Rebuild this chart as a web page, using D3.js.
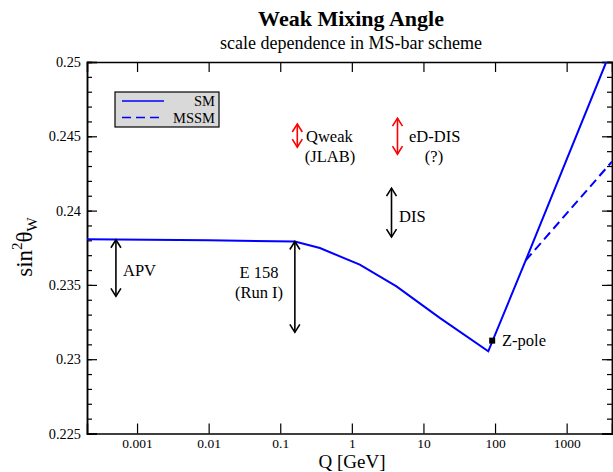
<!DOCTYPE html>
<html>
<head>
<meta charset="utf-8">
<script src="https://cdn.jsdelivr.net/npm/d3@7"></script>
<style>
  body { margin: 0; background: #fff; }
  text { font-family: "Liberation Serif", "Times New Roman", serif; }
</style>
</head>
<body>
<div id="chart"></div>
<script>
// SM running of sin^2 theta_W
const smQ = [0.0002, 0.01, 0.16, 0.358, 1.29, 4.2, 16.9, 80.4, 268, 3573];
const smS = [0.23808, 0.23800, 0.23792, 0.23748, 0.23636, 0.2349, 0.23278, 0.23053, 0.23665, 0.25];
// MSSM branch
const mssmQ = [268, 4300];
const mssmS = [0.23665, 0.2433];
// Z-pole point
const zQ = [91.19];
const zS = [0.23125];

// measurement arrows: Q, low, high
const arrowNames = ["APV", "E158", "DIS", "Qweak", "eD-DIS"];
const arrowQ = [0.000507, 0.16, 3.58, 0.173, 4.34];
const arrowLo = [0.23423, 0.23181, 0.23822, 0.24427, 0.2438];
const arrowHi = [0.23804, 0.23792, 0.24151, 0.24583, 0.24622];
const arrowColor = ["#000", "#000", "#000", "red", "red"];

const xTicks = [0.001, 0.01, 0.1, 1, 10, 100, 1000];
const xTickLabels = ["0.001", "0.01", "0.1", "1", "10", "100", "1000"];
const yTicks = [0.225, 0.23, 0.235, 0.24, 0.245, 0.25];
const yTickLabels = ["0.225", "0.23", "0.235", "0.24", "0.245", "0.25"];

const width = 613, height = 472;
const mLeft = 87, mRight = 612, mTop = 62, mBottom = 433.5;

const svg = d3.select("#chart").append("svg")
  .attr("width", width).attr("height", height);

const x = d3.scaleLog().domain([0.0002, 4300]).range([mLeft, mRight]);
const y = d3.scaleLinear().domain([0.225, 0.25]).range([mBottom, mTop]);

svg.append("clipPath").attr("id", "clip")
  .append("rect").attr("x", mLeft).attr("y", mTop)
  .attr("width", mRight - mLeft).attr("height", mBottom - mTop);

// titles
svg.append("text").attr("x", 351).attr("y", 26).attr("text-anchor", "middle")
  .attr("font-size", 22).attr("font-weight", "bold").text("Weak Mixing Angle");
svg.append("text").attr("x", 351).attr("y", 49).attr("text-anchor", "middle")
  .attr("font-size", 18).text("scale dependence in MS-bar scheme");

// axes (ticks inward)
const gx = svg.append("g").attr("transform", `translate(0,${mBottom})`)
  .call(d3.axisBottom(x).tickValues(xTicks).tickSize(-10).tickFormat((d, i) => xTickLabels[i]));
const gxt = svg.append("g").attr("transform", `translate(0,${mTop})`)
  .call(d3.axisTop(x).tickValues(xTicks).tickSize(-10).tickFormat(""));
const yMinor = d3.range(0.225, 0.2505, 0.001);
const gy = svg.append("g").attr("transform", `translate(${mLeft},0)`)
  .call(d3.axisLeft(y).tickValues(yTicks).tickSize(-10).tickFormat((d, i) => yTickLabels[i]));
const gym = svg.append("g").attr("transform", `translate(${mLeft},0)`)
  .call(d3.axisLeft(y).tickValues(yMinor).tickSize(-5).tickFormat(""));
const gyr = svg.append("g").attr("transform", `translate(${mRight},0)`)
  .call(d3.axisRight(y).tickValues(yTicks).tickSize(-10).tickFormat(""));
const gyrm = svg.append("g").attr("transform", `translate(${mRight},0)`)
  .call(d3.axisRight(y).tickValues(yMinor).tickSize(-5).tickFormat(""));

[gx, gxt, gy, gym, gyr, gyrm].forEach(g => {
  g.attr("font-family", null);
  g.select(".domain").attr("stroke", "#000").attr("stroke-width", 1.5);
  g.selectAll(".tick line").attr("stroke", "#000").attr("stroke-width", 1.2);
});
gx.selectAll(".tick text").attr("font-size", 13.5).attr("dy", 0).attr("y", 14)
  .attr("fill", "#000");
gy.selectAll(".tick text").attr("font-size", 14.3).attr("x", -6).attr("dy", "0.32em")
  .attr("fill", "#000");

// axis labels
svg.append("text").attr("x", 352).attr("y", 468).attr("text-anchor", "middle")
  .attr("font-size", 19).text("Q [GeV]");
const yl = svg.append("text").attr("transform", "translate(32,247) rotate(-90)")
  .attr("text-anchor", "middle").attr("font-size", 23);
yl.append("tspan").text("sin");
yl.append("tspan").attr("font-size", 15).attr("dy", -10).text("2");
yl.append("tspan").attr("dy", 10).text("θ");
yl.append("tspan").attr("font-size", 15).attr("dy", 5).text("W");

// curves
const line = d3.line().x(d => x(d[0])).y(d => y(d[1]));
const plot = svg.append("g").attr("clip-path", "url(#clip)");
plot.append("path").datum(d3.zip(smQ, smS)).attr("d", line)
  .attr("fill", "none").attr("stroke", "#0000ff").attr("stroke-width", 2);
plot.append("path").datum(d3.zip(mssmQ, mssmS)).attr("d", line)
  .attr("fill", "none").attr("stroke", "#0000ff").attr("stroke-width", 2)
  .attr("stroke-dasharray", "9,5");

// Z-pole marker
svg.selectAll(".zp").data(d3.zip(zQ, zS)).enter().append("rect")
  .attr("x", d => x(d[0]) - 3).attr("y", d => y(d[1]) - 3)
  .attr("width", 6).attr("height", 6).attr("fill", "#000");
svg.append("text").attr("x", 502).attr("y", 346).attr("font-size", 16.5).text("Z-pole");

// double arrows
arrowQ.forEach((q, i) => {
  const ax = x(q), y1 = y(arrowHi[i]), y2 = y(arrowLo[i]);
  const g = svg.append("g").attr("stroke", arrowColor[i]).attr("stroke-width", 1.6)
    .attr("fill", "none");
  g.append("line").attr("x1", ax).attr("x2", ax).attr("y1", y1).attr("y2", y2);
  g.append("path").attr("d", `M${ax - 5},${y1 + 8}L${ax},${y1}L${ax + 5},${y1 + 8}`);
  g.append("path").attr("d", `M${ax - 5},${y2 - 8}L${ax},${y2}L${ax + 5},${y2 - 8}`);
});

// arrow labels
const labels = [
  { t: "APV", x: 123, y: 276, a: "start" },
  { t: "E 158", x: 259, y: 278, a: "middle" },
  { t: "(Run I)", x: 259, y: 298, a: "middle" },
  { t: "DIS", x: 399, y: 222, a: "start" },
  { t: "Qweak", x: 306, y: 142, a: "start" },
  { t: "(JLAB)", x: 330, y: 162, a: "middle" },
  { t: "eD-DIS", x: 409, y: 142, a: "start" },
  { t: "(?)", x: 434, y: 162, a: "middle" }
];
svg.selectAll(".lab").data(labels).enter().append("text")
  .attr("x", d => d.x).attr("y", d => d.y).attr("text-anchor", d => d.a)
  .attr("font-size", 16.5).text(d => d.t);

// legend
const lg = svg.append("g");
lg.append("rect").attr("x", 115).attr("y", 92).attr("width", 104).attr("height", 35)
  .attr("fill", "#d9d9d9").attr("stroke", "#000").attr("stroke-width", 1.2);
lg.append("line").attr("x1", 122).attr("x2", 164).attr("y1", 101).attr("y2", 101)
  .attr("stroke", "#0000ff").attr("stroke-width", 1.6);
lg.append("line").attr("x1", 122).attr("x2", 164).attr("y1", 117.5).attr("y2", 117.5)
  .attr("stroke", "#0000ff").attr("stroke-width", 1.6).attr("stroke-dasharray", "9,5");
lg.append("text").attr("x", 215).attr("y", 105.5).attr("text-anchor", "end")
  .attr("font-size", 14.5).text("SM");
lg.append("text").attr("x", 215).attr("y", 122.5).attr("text-anchor", "end")
  .attr("font-size", 14.5).text("MSSM");
</script>
</body>
</html>
